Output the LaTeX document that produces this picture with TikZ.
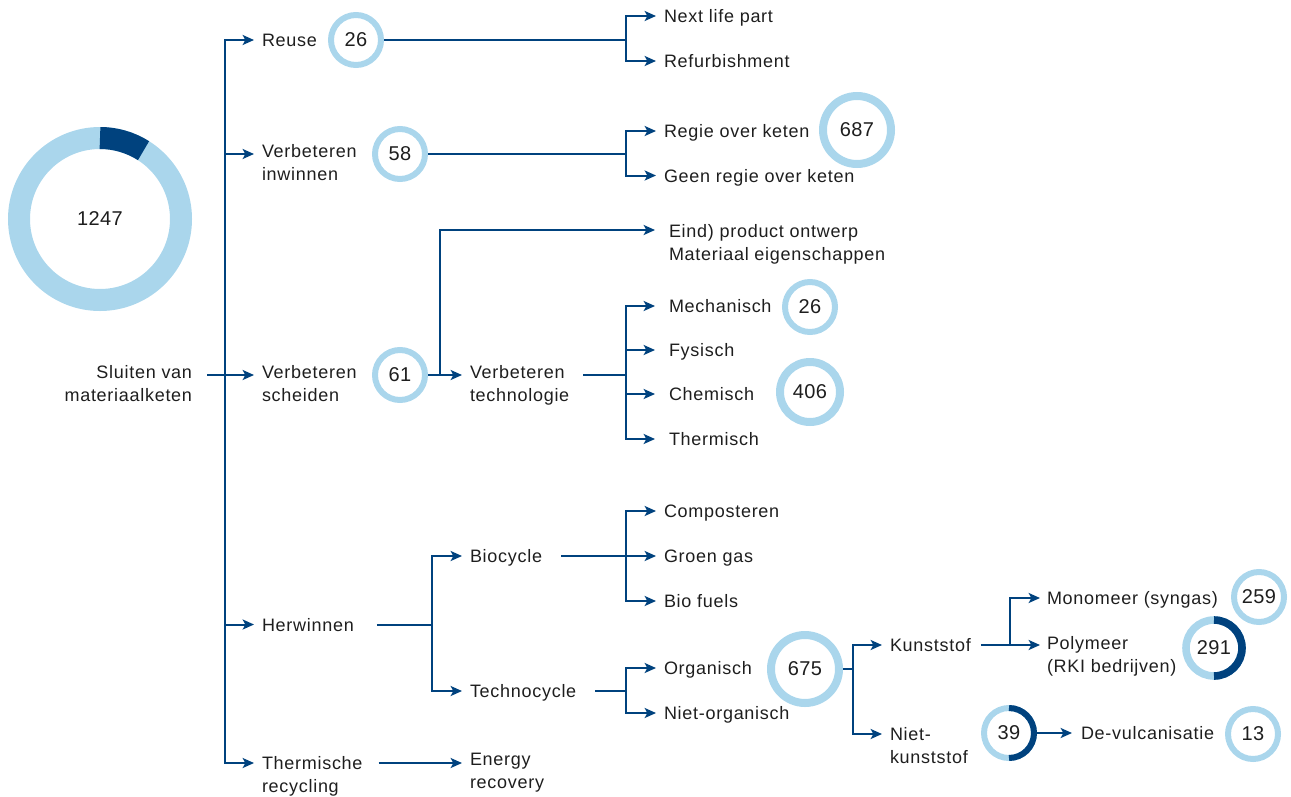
\documentclass[tikz,border=0pt]{standalone}
\usepackage{fontspec}
\setmainfont{Liberation Sans}[LetterSpace=4]
\newfontfamily\numfamily{Liberation Sans}[LetterSpace=2]
\usetikzlibrary{arrows.meta,calc}
\definecolor{navy}{HTML}{00427E}
\definecolor{sky}{HTML}{AAD6EC}
\definecolor{ink}{HTML}{1E1E1E}
\tikzset{
  ln/.style={draw=navy, line width=1.5pt},
  arr/.style={ln, -{Stealth[length=8.5pt,width=7.5pt,inset=2pt]}},
  % base anchor of a two-line label sits on its last line
  lbl/.style={anchor=base west, inner sep=0pt, outer sep=0pt, align=left, text=ink,
              font=\fontsize{13.5pt}{17.25pt}\selectfont},
  ring/.style={circle, draw=sky, inner sep=0pt, text=ink,
               font=\numfamily\fontsize{15pt}{15pt}\selectfont},
  ringS/.style={ring, minimum size=37.5pt, line width=4.5pt},
  ringM/.style={ring, minimum size=45pt, line width=6pt},
  ringL/.style={ring, minimum size=51pt, line width=6pt},
  ringXL/.style={ring, minimum size=42pt, line width=5.7pt},
}
\begin{document}
\begin{tikzpicture}[x=0.75pt, y=-0.75pt]
\useasboundingbox (0,0) rectangle (1291,796);

% total donut
\node[text=ink, font=\numfamily\fontsize{15pt}{15pt}\selectfont] (total) at (100,219) {1247};
\draw[sky, line width=16.5pt] (total.center) circle[radius=60.75pt];
\draw[navy, line width=16.5pt] ([shift={(90:60.75pt)}]total.center)
  arc[start angle=90, end angle=57.5, radius=60.75pt];

% labels
\node[lbl, anchor=base east, align=right] (sluiten) at (192,401.5) {Sluiten van\\materiaalketen};
\node[lbl] (reuse)     at (262,46.5)  {Reuse};
\node[lbl] (inwinnen)  at (262,180.5) {Verbeteren\\inwinnen};
\node[lbl] (scheiden)  at (262,401.5) {Verbeteren\\scheiden};
\node[lbl] (herwinnen) at (262,631)   {Herwinnen};
\node[lbl] (thermrec)  at (262,792.5) {Thermische\\recycling};

\node[lbl] (nextlife)  at (664,22.5)  {Next life part};
\node[lbl] (refurb)    at (664,67.5)  {Refurbishment};
\node[lbl] (regie)     at (664,137.5) {Regie over keten};
\node[lbl] (geenregie) at (664,182)   {Geen regie over keten};

\node[lbl] (eind)      at (669,260) {Eind) product ontwerp\\Materiaal eigenschappen};
\node[lbl] (vtech)     at (470,401.5) {Verbeteren\\technologie};
\node[lbl] (mech)      at (669,312.5) {Mechanisch};
\node[lbl] (fys)       at (669,356.5) {Fysisch};
\node[lbl] (chem)      at (669,400.5) {Chemisch};
\node[lbl] (therm)     at (669,445.5) {Thermisch};

\node[lbl] (bio)       at (470,562.5) {Biocycle};
\node[lbl] (techno)    at (470,697.5) {Technocycle};
\node[lbl] (compost)   at (664,517.5) {Composteren};
\node[lbl] (groen)     at (664,562.5) {Groen gas};
\node[lbl] (biofuel)   at (664,607.5) {Bio fuels};
\node[lbl] (organ)     at (664,674.5) {Organisch};
\node[lbl] (nietorg)   at (664,719.5) {Niet-organisch};

\node[lbl] (kunst)     at (890,651.5) {Kunststof};
\node[lbl] (nietkunst) at (890,763.5) {Niet-\\kunststof};
\node[lbl] (mono)      at (1047,604.5) {Monomeer (syngas)};
\node[lbl] (poly)      at (1047,672.5) {Polymeer\\(RKI bedrijven)};
\node[lbl] (devulc)    at (1081,739.5) {De-vulcanisatie};
\node[lbl] (energy)    at (470,788.5) {Energy\\recovery};

% counts
\node[ringS]  (r26a) at (356,40)   {26};
\node[ringS]  (r58)  at (400,154)  {58};
\node[ringS]  (r61)  at (400,375)  {61};
\node[ringL]  (r687) at (857,130)  {687};
\node[ringS]  (r26b) at (810,307)  {26};
\node[ringM]  (r406) at (810,392)  {406};
\node[ringL]  (r675) at (805,669)  {675};
\node[ringS]  (r259) at (1259,597) {259};
\node[ringXL] (r291) at (1214,648) {291};
\node[ringS]  (r39)  at (1009,733) {39};
\node[ringS]  (r13)  at (1253,734) {13};
\draw[navy, line width=5.7pt] ([shift={(90:21pt)}]r291.center)
  arc[start angle=90, end angle=-90, radius=21pt];
\draw[navy, line width=4.5pt] ([shift={(90:18.75pt)}]r39.center)
  arc[start angle=90, end angle=-90, radius=18.75pt];

% junctions
\coordinate (trunk) at (225,375);
\coordinate (j1) at (626,40);
\coordinate (j2) at (626,154);
\coordinate (j3) at (440,375);
\coordinate (j4) at (626,375);
\coordinate (j5) at (432,624.5);
\coordinate (j6) at (626,556);
\coordinate (j7) at (626,691);
\coordinate (j8) at (853,669);
\coordinate (j9) at (1010,645);

% main trunk
\draw[arr] ($(sluiten.base east)+(15,-26.5)$) -- ($(scheiden.base west)+(-8,-26.5)$);
\draw[arr] (trunk) |- ($(reuse.base west)+(-8,-6.5)$);
\draw[arr] (trunk) |- ($(inwinnen.base west)+(-8,-26.5)$);
\draw[arr] (trunk) |- ($(herwinnen.base west)+(-8,-6.5)$);
\draw[arr] (trunk) |- ($(thermrec.base west)+(-8,-29.5)$);

% reuse
\draw[ln] (r26a.east) -- (j1);
\draw[arr] (j1) |- ($(nextlife.base west)+(-8,-6.5)$);
\draw[arr] (j1) |- ($(refurb.base west)+(-8,-6.5)$);

% inwinnen
\draw[ln] (r58.east) -- (j2);
\draw[arr] (j2) |- ($(regie.base west)+(-8,-6.5)$);
\draw[arr] (j2) |- ($(geenregie.base west)+(-8,-6.5)$);

% scheiden
\draw[arr] (r61.east) -- ($(vtech.base west)+(-8,-26.5)$);
\draw[arr] (j3) |- ($(eind.base west)+(-14,-30)$);
\draw[ln] ($(vtech.base east)+(14,-26.5)$) -- (j4);
\draw[arr] (j4) |- ($(mech.base west)+(-14,-6.5)$);
\draw[arr] (j4) |- ($(fys.base west)+(-14,-6.5)$);
\draw[arr] (j4) |- ($(chem.base west)+(-14,-6.5)$);
\draw[arr] (j4) |- ($(therm.base west)+(-14,-6.5)$);

% herwinnen
\draw[ln] ($(herwinnen.base east)+(23,-6.5)$) -- (j5);
\draw[arr] (j5) |- ($(bio.base west)+(-8,-6.5)$);
\draw[arr] (j5) |- ($(techno.base west)+(-8,-6.5)$);
\draw[ln] ($(bio.base east)+(19,-6.5)$) -- (j6);
\draw[arr] (j6) |- ($(compost.base west)+(-8,-6.5)$);
\draw[arr] (j6) |- ($(groen.base west)+(-8,-6.5)$);
\draw[arr] (j6) |- ($(biofuel.base west)+(-8,-6.5)$);
\draw[ln] ($(techno.base east)+(19,-6.5)$) -- (j7);
\draw[arr] (j7) |- ($(organ.base west)+(-8,-6.5)$);
\draw[arr] (j7) |- ($(nietorg.base west)+(-8,-6.5)$);
\draw[ln] (r675.east) -- (j8);
\draw[arr] (j8) |- ($(kunst.base west)+(-8,-6.5)$);
\draw[arr] (j8) |- ($(nietkunst.base west)+(-8,-29.5)$);
\draw[ln] ($(kunst.base east)+(10,-6.5)$) -- (j9);
\draw[arr] (j9) |- ($(mono.base west)+(-7,-6.5)$);
\draw[arr] (j9) |- ($(poly.base west)+(-7,-27.5)$);
\draw[arr] (r39.east) -- ($(devulc.base west)+(-9,-6.5)$);

% thermische recycling
\draw[arr] ($(thermrec.base east)+(16,-29.5)$) -- ($(energy.base west)+(-8,-25.5)$);
\end{tikzpicture}
\end{document}
